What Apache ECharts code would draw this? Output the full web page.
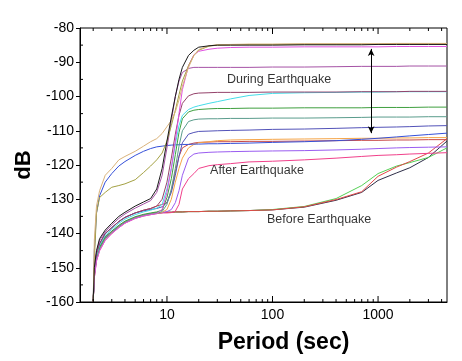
<!DOCTYPE html>
<html>
<head>
<meta charset="utf-8">
<script src="https://cdn.jsdelivr.net/npm/echarts@6/dist/echarts.min.js"></script>
<style>html,body{margin:0;padding:0;background:#fff;}#c{width:462px;height:361px;}</style>
</head>
<body>
<div id="c"></div>
<script>
// Period grid (sec)
const periods = [2, 2.05, 2.15, 2.3, 2.6, 3, 3.5, 4, 5, 6, 7, 8, 9, 10, 11, 12, 13, 14, 16, 18, 20, 25, 30, 40, 60, 100, 200, 400, 700, 1000, 1500, 2000, 3000, 4500];

// During earthquake
const tanLine    = [-160,-142,-132,-127.5,-123,-121,-118.5,-117.5,-116,-114.5,-113.2,-112.3,-110.8,-108.8,-107,-104.5,-101,-97,-91.5,-88,-86.3,-85.2,-84.9,-84.8,-84.7,-84.7,-84.6,-84.6,-84.6,-84.6,-84.5,-84.5,-84.5,-84.5];
const oliveLine  = [-160,-148,-134,-129.5,-128,-126.5,-126,-125.5,-124.3,-122.2,-120.3,-118.5,-116.5,-113,-108.5,-104,-99.5,-95.5,-91,-88,-86.5,-85.3,-85,-84.9,-84.8,-84.8,-84.7,-84.7,-84.7,-84.7,-84.6,-84.6,-84.6,-84.6];
const blackLine  = [-160,-150,-145,-141.5,-139,-137,-135,-133.8,-132,-130.8,-129.8,-127,-121,-113,-106,-100,-95,-91.5,-88,-86.5,-85.6,-85.2,-85,-85,-85,-85,-84.9,-84.9,-84.9,-84.8,-84.8,-84.8,-84.8,-84.8];
const magentaLine= [-160,-153,-148,-145,-142,-140,-138.3,-137,-135.6,-134.9,-134.5,-134.2,-133,-128,-121,-113,-105,-98,-91,-87.8,-86.8,-86.2,-85.9,-85.7,-85.6,-85.6,-85.5,-85.5,-85.5,-85.5,-85.4,-85.4,-85.4,-85.4];
const mauveLine  = [-160,-150.5,-145.5,-142,-139.5,-137.5,-135.6,-134.3,-132.6,-131.4,-130.4,-128,-123,-115,-107,-100,-95.5,-93,-91.8,-91.5,-91.5,-91.5,-91.5,-91.5,-91.5,-91.4,-91.4,-91.3,-91.2,-91.2,-91.2,-91.1,-91.1,-91.1];
const maroonLine = [-160,-151,-146,-143,-140,-138.3,-136.5,-135.3,-134,-133.2,-132.7,-132,-130,-125,-118,-111,-105.5,-102,-99.8,-99.2,-99,-98.9,-98.8,-98.8,-98.8,-98.7,-98.7,-98.7,-98.6,-98.6,-98.6,-98.5,-98.5,-98.5];
const cyanLine   = [-160,-151.5,-146.5,-143.5,-140.5,-138.8,-137,-135.8,-134.5,-133.7,-133.2,-132.6,-131.5,-127,-121,-114,-108.5,-105.5,-103.8,-103.1,-102.7,-102,-101.5,-100.7,-99.7,-99.1,-98.9,-98.8,-98.7,-98.7,-98.6,-98.6,-98.6,-98.6];
const greenLine  = [-160,-152,-147,-144,-141,-139.3,-137.6,-136.4,-135.1,-134.4,-134,-133.7,-133.2,-129.5,-124,-117,-110.5,-106.5,-104.5,-104,-103.8,-103.6,-103.5,-103.5,-103.4,-103.4,-103.3,-103.3,-103.3,-103.2,-103.2,-103.2,-103.1,-103.1];
const tealLine   = [-160,-152.5,-147.5,-144.5,-141.5,-139.8,-138,-136.8,-135.5,-134.8,-134.4,-134.1,-133.6,-131.5,-127,-121,-114.5,-110,-107.3,-106.8,-106.6,-106.5,-106.5,-106.4,-106.4,-106.3,-106.3,-106.2,-106.1,-106,-106,-106,-105.9,-105.9];
const slateLine  = [-160,-151,-146,-143,-140,-138.3,-136.5,-135.3,-134,-133.4,-133,-132.7,-132.2,-131,-128,-123,-117.5,-113.5,-111,-110.5,-110.2,-110.1,-110,-109.9,-109.8,-109.6,-109.5,-109.3,-109.1,-109,-108.9,-108.8,-108.6,-108.5];
const blueLine   = [-160,-145,-134,-129,-125,-122.5,-120.3,-119,-117.2,-116,-115.2,-114.7,-114.5,-114.3,-114.2,-114.1,-114.1,-114,-114,-113.9,-113.9,-113.8,-113.8,-113.7,-113.6,-113.4,-113.2,-112.9,-112.5,-112.2,-111.8,-111.5,-111.1,-110.7];

// After earthquake
const orangeLine = [-160,-152.5,-147.5,-144.5,-141.5,-139.8,-138,-136.8,-135.5,-134.8,-134.4,-134.1,-133.8,-133,-130,-125,-121,-118,-115,-114,-113.5,-113.2,-112.9,-112.7,-112.6,-112.5,-112.4,-112.3,-112.2,-112.2,-112.1,-112.1,-112,-112];
const brickLine  = [-160,-151,-146,-143,-140,-138.3,-136.5,-135.3,-134,-133.2,-132.7,-132,-131.5,-131,-127.5,-122,-117.5,-115,-114,-113.6,-113.4,-113.3,-113.2,-113.2,-113.1,-113.1,-113,-112.9,-112.8,-112.8,-112.7,-112.7,-112.6,-112.6];
const purpleLine = [-160,-152,-147,-144,-141,-139.5,-137.8,-136.6,-135.3,-134.6,-134.2,-134,-133.9,-133.6,-133,-131,-127.5,-123,-118,-116.8,-116.5,-116.3,-116.2,-116.1,-116,-115.9,-115.8,-115.6,-115.4,-115.2,-115,-114.9,-114.8,-114.7];
const pinkLine   = [-160,-153,-148,-145,-142,-140,-138.3,-137,-135.6,-134.9,-134.5,-134.2,-134,-134,-133.9,-133.5,-131.5,-127,-124,-122.5,-121,-120.2,-119.9,-119.6,-119.1,-118.9,-118.5,-118,-117.5,-117.2,-117,-116.8,-116.6,-116.4];

// Before earthquake
const beforeBlack = [-160,-152,-147,-144,-141,-139.5,-137.8,-136.6,-135.3,-134.6,-134.2,-134,-133.9,-133.8,-133.8,-133.7,-133.7,-133.7,-133.6,-133.6,-133.6,-133.5,-133.5,-133.4,-133.3,-133.1,-132.3,-130.3,-128,-124.5,-122.3,-120.8,-117.8,-113];
const beforeGreen = [-160,-152,-147,-144,-141,-139.5,-137.8,-136.6,-135.3,-134.6,-134.2,-134,-133.9,-133.8,-133.8,-133.7,-133.7,-133.7,-133.6,-133.6,-133.6,-133.5,-133.5,-133.4,-133.3,-133,-132.1,-129.8,-126,-122.5,-120.3,-119.3,-117.8,-115];
const beforeRed   = [-160,-152,-147,-144,-141,-139.5,-137.8,-136.6,-135.3,-134.6,-134.2,-134,-133.9,-133.8,-133.8,-133.7,-133.7,-133.7,-133.6,-133.6,-133.6,-133.5,-133.5,-133.4,-133.3,-133.1,-132.2,-130.1,-127.8,-123.3,-120.6,-119,-116.5,-112.3];

// Axis ticks
const majorXTicks = [10, 100, 1000];
const minorXTicks = [2,3,4,5,6,7,8,9,20,30,40,50,60,70,80,90,200,300,400,500,600,700,800,900,2000,3000,4000];
const minorYTicks = [-155,-145,-135,-125,-115,-105,-95,-85];

// Annotations [period, dB, text]
const annotations = [[37, -95, 'During Earthquake'], [25.6, -121.5, 'After Earthquake'], [88.7, -136, 'Before Earthquake']];
const arrowPeriod = 860, arrowTop = -86.1, arrowBottom = -110.7;

const lines = [
  ['before black', '#2e2e48', beforeBlack],
  ['before green', '#55d055', beforeGreen],
  ['before red', '#e04848', beforeRed],
  ['pink', '#f0408a', pinkLine],
  ['purple', '#9a5cf0', purpleLine],
  ['brick', '#c84848', brickLine],
  ['orange', '#f5a548', orangeLine],
  ['blue', '#3550d8', blueLine],
  ['slate', '#5252b8', slateLine],
  ['teal', '#5a9c8c', tealLine],
  ['green', '#3f9f3f', greenLine],
  ['cyan', '#45dde8', cyanLine],
  ['maroon', '#94426a', maroonLine],
  ['mauve', '#a552a5', mauveLine],
  ['magenta', '#e052e0', magentaLine],
  ['olive', '#a3a042', oliveLine],
  ['tan', '#d9b27a', tanLine],
  ['black', '#1a1a1a', blackLine]
];

const FONT = 'Liberation Sans, Arial, sans-serif';
const X_MIN = 1.5, X_MAX = 4500, Y_MIN = -160, Y_MAX = -80;

const series = lines.map(([name, color, vals]) => ({
  name, type: 'line', data: periods.map((p, i) => [p, vals[i]]),
  showSymbol: false, symbol: 'none', lineStyle: { color, width: 1 }, itemStyle: { color },
  silent: true, z: 3
}));

// x ticks (top & bottom, inward)
const xTickData = majorXTicks.map(v => [v, 6]).concat(minorXTicks.map(v => [v, 3]));
series.push({
  type: 'custom', silent: true, z: 5, clip: false,
  data: xTickData,
  encode: { x: 0 },
  renderItem: (params, api) => {
    const v = api.value(0), len = api.value(1);
    const b = api.coord([v, Y_MIN]), t = api.coord([v, Y_MAX]);
    const st = { stroke: '#000', lineWidth: 1 };
    return { type: 'group', children: [
      { type: 'line', shape: { x1: b[0], y1: b[1], x2: b[0], y2: b[1] - len }, style: st },
      { type: 'line', shape: { x1: t[0], y1: t[1], x2: t[0], y2: t[1] + len }, style: st }
    ]};
  }
});
// y minor ticks (inward)
series.push({
  type: 'custom', silent: true, z: 5, clip: false,
  data: minorYTicks.map(v => [X_MIN, v]),
  renderItem: (params, api) => {
    const p = api.coord([X_MIN, api.value(1)]);
    return { type: 'line', shape: { x1: p[0], y1: p[1], x2: p[0] + 3, y2: p[1] }, style: { stroke: '#000', lineWidth: 1 } };
  }
});
// annotations
series.push({
  type: 'scatter', silent: true, symbolSize: 0, z: 6,
  data: annotations.map(a => ({ value: [a[0], a[1]], name: a[2] })),
  label: { show: true, position: 'right', distance: 0, formatter: p => p.name,
           color: '#000', fontSize: 12.5, fontFamily: FONT }
});
// double arrow
series.push({
  type: 'line', data: [], silent: true, z: 6,
  markLine: {
    silent: true, symbol: ['arrow', 'arrow'], symbolSize: [5, 7],
    label: { show: false },
    lineStyle: { color: '#000', width: 1, type: 'solid' },
    data: [[{ coord: [arrowPeriod, arrowTop] }, { coord: [arrowPeriod, arrowBottom] }]]
  }
});

const chart = echarts.init(document.getElementById('c'), null, { renderer: 'canvas' });
chart.setOption({
  animation: false,
  backgroundColor: '#fff',
  grid: { left: 80, right: 15, top: 28, bottom: 59, show: true, borderColor: '#000', borderWidth: 1, backgroundColor: 'transparent' },
  xAxis: {
    type: 'log', logBase: 10, min: X_MIN, max: X_MAX,
    name: 'Period (sec)', nameLocation: 'middle', nameGap: 29,
    nameTextStyle: { fontSize: 23, fontFamily: FONT, color: '#000', fontWeight: 'bold', padding: [0, 0, 0, 40] },
    axisLine: { lineStyle: { color: '#000', width: 1 } },
    axisTick: { show: false },
    splitLine: { show: false },
    axisLabel: {
      fontSize: 14, fontFamily: FONT, color: '#000', margin: 6,
      showMinLabel: false, showMaxLabel: false,
      formatter: v => { const l = Math.log10(v); return Math.abs(l - Math.round(l)) < 1e-6 ? String(Math.round(v)) : ''; }
    }
  },
  yAxis: {
    type: 'value', min: Y_MIN, max: Y_MAX, interval: 10,
    name: 'dB', nameLocation: 'middle', nameGap: 45, nameRotate: 90,
    nameTextStyle: { fontSize: 22, fontFamily: FONT, color: '#000', fontWeight: 'bold' },
    axisLine: { show: true, lineStyle: { color: '#000', width: 1 } },
    axisTick: { show: true, inside: false, length: 4, lineStyle: { color: '#000' } },
    splitLine: { show: false },
    axisLabel: { fontSize: 14, fontFamily: FONT, color: '#000', margin: 6 }
  },
  series
});
</script>
</body>
</html>
